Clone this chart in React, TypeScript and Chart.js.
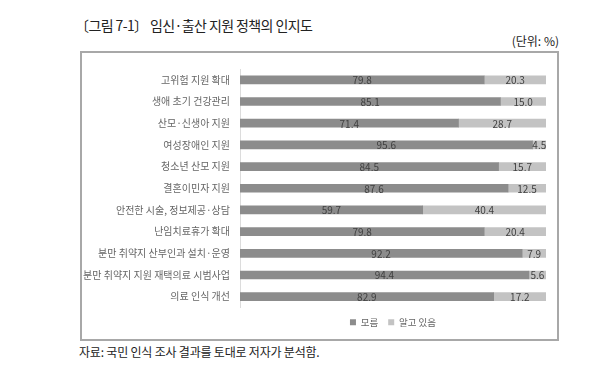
import React, { useEffect, useRef } from "react";
import { Chart, registerables } from "chart.js";

Chart.register(...registerables);

const categories = [
  "고위험 지원 확대",
  "생애 초기 건강관리",
  "산모·신생아 지원",
  "여성장애인 지원",
  "청소년 산모 지원",
  "결혼이민자 지원",
  "안전한 시술, 정보제공·상담",
  "난임치료휴가 확대",
  "분만 취약지 산부인과 설치·운영",
  "분만 취약지 지원 재택의료 시범사업",
  "의료 인식 개선",
];
const seriesNames = ["모름", "알고 있음"];
const unknownValues = [79.8, 85.1, 71.4, 95.6, 84.5, 87.6, 59.7, 79.8, 92.2, 94.4, 82.9];
const knownValues = [20.3, 15.0, 28.7, 4.5, 15.7, 12.5, 40.4, 20.4, 7.9, 5.6, 17.2];

const FONT = "'Noto Sans CJK KR', 'Noto Sans', sans-serif";

const valueLabels = {
  id: "valueLabels",
  afterDatasetsDraw(chart: any) {
    const ctx = chart.ctx;
    ctx.save();
    ctx.font = `10px ${FONT}`;
    ctx.fillStyle = "#404040";
    ctx.textAlign = "center";
    ctx.textBaseline = "middle";
    chart.data.datasets.forEach((ds: any, di: number) => {
      const meta = chart.getDatasetMeta(di);
      meta.data.forEach((el: any, i: number) => {
        const left = Math.min(el.x, el.base);
        const right = Math.min(Math.max(el.x, el.base), chart.chartArea.right);
        const cx = (left + right) / 2;
        ctx.fillText(Number(ds.data[i]).toFixed(1), cx, el.y + 0.5);
      });
    });
    ctx.restore();
  },
};

function BarChart() {
  const ref = useRef<HTMLCanvasElement>(null);
  useEffect(() => {
    if (!ref.current) return;
    const chart = new Chart(ref.current, {
      type: "bar",
      data: {
        labels: categories,
        datasets: [
          {
            label: seriesNames[0],
            data: unknownValues,
            backgroundColor: "#8c8c8c",
            barThickness: 8,
          },
          {
            label: seriesNames[1],
            data: knownValues,
            backgroundColor: "#c3c3c3",
            barThickness: 8,
          },
        ],
      },
      options: {
        indexAxis: "y",
        responsive: false,
        animation: false,
        layout: { padding: { top: 10, right: 9, left: 0, bottom: 0 } },
        scales: {
          x: {
            stacked: true,
            min: 0,
            max: 100,
            display: false,
          },
          y: {
            stacked: true,
            grid: { display: false, drawTicks: false },
            border: { display: true, color: "#dcdcdc", width: 1 },
            ticks: {
              color: "#666666",
              padding: 10,
              font: { family: FONT, size: 10 },
            },
            afterFit(scale: any) {
              scale.width = 158;
            },
          },
        },
        plugins: {
          legend: {
            display: true,
            position: "bottom",
            fullSize: false,
            labels: {
              boxWidth: 6,
              boxHeight: 6,
              padding: 10,
              color: "#666666",
              font: { family: FONT, size: 9.5 },
            },
          },
          tooltip: { enabled: false },
        },
      },
      plugins: [valueLabels],
    });
    return () => chart.destroy();
  }, []);
  return <canvas ref={ref} width={473} height={284} style={{ width: 473, height: 284, display: "block" }} />;
}

export default function App() {
  return (
    <div
      style={{
        position: "fixed",
        left: 0,
        top: 0,
        width: 610,
        height: 371,
        background: "#fff",
        fontFamily: FONT,
      }}
    >
      <div
        style={{
          position: "absolute",
          left: 75,
          top: 15,
          fontSize: 14,
          letterSpacing: -0.6,
          lineHeight: "20px",
          color: "#222",
          whiteSpace: "nowrap",
        }}
      >
        〔그림 7-1〕 임신·출산 지원 정책의 인지도
      </div>
      <div
        style={{
          position: "absolute",
          right: 610 - 559,
          top: 33,
          fontSize: 12,
          lineHeight: "16px",
          color: "#222",
          whiteSpace: "nowrap",
        }}
      >
        (단위: %)
      </div>
      <div
        style={{
          position: "absolute",
          left: 80,
          top: 51,
          width: 475,
          height: 286,
          border: "2px solid #a8a8a8",
        }}
      >
        <BarChart />
      </div>
      <div
        style={{
          position: "absolute",
          left: 79,
          top: 343,
          fontSize: 12,
          letterSpacing: -0.2,
          lineHeight: "18px",
          color: "#222",
          whiteSpace: "nowrap",
        }}
      >
        자료: 국민 인식 조사 결과를 토대로 저자가 분석함.
      </div>
    </div>
  );
}
